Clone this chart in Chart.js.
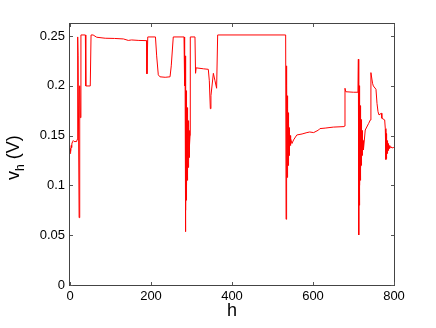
<!DOCTYPE html>
<html>
<head>
<meta charset="utf-8">
<script src="https://cdn.jsdelivr.net/npm/chart.js@4/dist/chart.umd.min.js"></script>
<style>
  body { margin: 0; background: #fff; }
  #wrap { width: 436px; height: 328px; }
</style>
</head>
<body>
<div id="wrap"><canvas id="chart-vh" width="436" height="328"></canvas></div>
<script>
// h values (x axis)
const hVals = [
  0, 1, 2, 3, 4, 5, 6.5, 8, 10, 16.5, 17.5, 19, 20, 22.5, 23.5, 24.5, 25.5, 27, 38, 39, 50, 52,
  57, 66, 87, 110, 132, 144, 152, 170, 189, 190, 192, 211, 214, 218, 222, 235, 247, 250, 255,
  281.5, 283, 284, 284.6, 285, 285.3, 285.6, 285.9, 286.2, 286.5, 286.8, 287.1, 287.4, 287.7, 288,
  288.3, 288.6, 288.9, 289.2, 289.5, 289.8, 290.1, 290.4, 290.7, 291, 291.3, 291.6, 291.9, 292.2,
  292.5, 292.8, 293.1, 293.4, 293.7, 294, 294.3, 294.6, 294.9, 295.2, 295.5, 295.8, 296.4, 297,
  308.6, 310, 311.5, 330, 341.5, 344, 346.5, 348, 354, 358, 362, 364.6, 532.5,
  533.5, 533.9, 534.2, 534.5, 534.8, 535.1, 535.4, 535.7, 536, 536.3, 536.6, 536.9, 537.2, 537.5,
  537.8, 538.1, 538.4, 538.7, 539, 539.3, 539.6, 539.9, 540.2, 540.5, 540.8, 541.1, 541.4, 541.7,
  542, 542.5, 543, 543.5, 544, 545.5, 548, 552, 560, 573, 585, 592,
  601.6, 614, 617, 630, 650, 676.5, 678.5, 679, 681, 700, 711,
  712, 712.3, 712.6, 712.9, 713.2, 713.5, 713.8, 714.1, 714.4, 714.7, 715, 715.3, 715.6, 715.9,
  716.2, 716.5, 716.8, 717.1, 717.4, 717.7, 718, 718.3, 718.6, 718.9, 719.2, 719.5, 719.8, 720.1,
  720.4, 720.7, 721, 721.3, 721.6, 721.9, 722.2, 722.6, 723, 723.5, 724,
  725, 729, 737.5, 741.6, 743, 747, 749, 755.5, 758, 760.5, 763, 768.7, 770, 777, 778.5,
  780, 780.3, 780.6, 780.9, 781.2, 781.5, 781.8, 782.1, 782.4, 782.7, 783, 783.3, 783.6, 784,
  784.5, 785, 785.5, 786, 786.5, 787, 788, 789, 790, 792, 795, 798, 800
];
// v_h values in volts
const vVals = [
  0.132, 0.137, 0.134, 0.14, 0.138, 0.143, 0.144, 0.145, 0.144, 0.144, 0.146, 0.249, 0.23, 0.0676, 0.164, 0.2, 0.168, 0.251, 0.251, 0.1998, 0.1998, 0.251,
  0.251, 0.2487, 0.2477, 0.2475, 0.247, 0.2455, 0.246, 0.2455, 0.2453, 0.212, 0.249, 0.249, 0.23, 0.211, 0.209, 0.2085, 0.209, 0.22, 0.249,
  0.249, 0.2, 0.23, 0.12, 0.0535, 0.2075, 0.08, 0.2, 0.075, 0.195, 0.085, 0.19, 0.09, 0.185, 0.095,
  0.18, 0.1, 0.178, 0.105, 0.175, 0.11, 0.172, 0.112, 0.17, 0.115, 0.168, 0.118, 0.165, 0.12,
  0.163, 0.122, 0.16, 0.125, 0.158, 0.128, 0.155, 0.13, 0.153, 0.135, 0.15, 0.14, 0.15, 0.249,
  0.249, 0.2125, 0.218, 0.217, 0.2165, 0.205, 0.177, 0.19, 0.2125, 0.205, 0.1975, 0.251, 0.251,
  0.066, 0.22, 0.1, 0.215, 0.102, 0.21, 0.105, 0.2, 0.108, 0.19, 0.112, 0.185, 0.115, 0.18,
  0.118, 0.177, 0.12, 0.173, 0.122, 0.17, 0.125, 0.165, 0.128, 0.162, 0.13, 0.158, 0.133, 0.155,
  0.135, 0.152, 0.138, 0.15, 0.14, 0.147, 0.142, 0.1456, 0.1506, 0.1516, 0.153, 0.1536,
  0.153, 0.1556, 0.157, 0.1575, 0.1585, 0.159, 0.1595, 0.1975, 0.194, 0.1935, 0.1935,
  0.2266, 0.11, 0.215, 0.07, 0.21, 0.0502, 0.2, 0.08, 0.195, 0.09, 0.19, 0.095, 0.185, 0.1,
  0.18, 0.105, 0.177, 0.11, 0.172, 0.115, 0.17, 0.118, 0.166, 0.12, 0.163, 0.123, 0.16, 0.126,
  0.158, 0.128, 0.155, 0.13, 0.153, 0.133, 0.15, 0.136, 0.148, 0.14, 0.145,
  0.1355, 0.1556, 0.1623, 0.1657, 0.2132, 0.2025, 0.1998, 0.1965, 0.1824, 0.174, 0.1707, 0.1724, 0.1674, 0.1657, 0.157,
  0.126, 0.152, 0.127, 0.15, 0.128, 0.148, 0.13, 0.147, 0.131, 0.146, 0.132, 0.145, 0.133, 0.144,
  0.134, 0.143, 0.135, 0.142, 0.136, 0.141, 0.137, 0.14, 0.1375, 0.139, 0.1375, 0.138, 0.138
];
const xTicks = [0, 200, 400, 600, 800];
const yTicks = [0, 0.05, 0.1, 0.15, 0.2, 0.25];

const FONT = '"Liberation Sans", Arial, sans-serif';

// box around plot area + inward ticks on all four sides, and the axis titles
const framePlugin = {
  id: 'frame',
  afterDatasetsDraw(chart) {
    const { ctx, chartArea: a, scales } = chart;
    ctx.save();
    ctx.strokeStyle = '#444';
    ctx.lineWidth = 1;
    ctx.strokeRect(a.left - 0.5, a.top - 0.5, a.right - a.left + 1, a.bottom - a.top + 1);
    ctx.strokeStyle = '#555';
    ctx.beginPath();
    xTicks.forEach(v => {
      const px = Math.round(scales.x.getPixelForValue(v)) + 0.5;
      ctx.moveTo(px, a.bottom); ctx.lineTo(px, a.bottom - 3);
      ctx.moveTo(px, a.top); ctx.lineTo(px, a.top + 3);
    });
    yTicks.forEach(v => {
      const py = Math.round(scales.y.getPixelForValue(v)) + 0.5;
      ctx.moveTo(a.left, py); ctx.lineTo(a.left + 3, py);
      ctx.moveTo(a.right, py); ctx.lineTo(a.right - 3, py);
    });
    ctx.stroke();

    // x title
    ctx.fillStyle = '#000';
    ctx.font = '18px ' + FONT;
    ctx.textAlign = 'center';
    ctx.textBaseline = 'alphabetic';
    ctx.fillText('h', (a.left + a.right) / 2, 316);

    // y title: v with subscript h, then (V)
    ctx.translate(19, 180);
    ctx.rotate(-Math.PI / 2);
    ctx.textAlign = 'left';
    ctx.font = '18px ' + FONT;
    ctx.fillText('v', 0, 0);
    let w = ctx.measureText('v').width;
    ctx.font = '12px ' + FONT;
    ctx.fillText('h', w, 5);
    w += ctx.measureText('h').width;
    ctx.font = '18px ' + FONT;
    ctx.fillText(' (V)', w, 0);
    ctx.restore();
  }
};

const ctx = document.getElementById('chart-vh');
new Chart(ctx, {
  type: 'line',
  data: {
    datasets: [{
      data: hVals.map((h, i) => ({ x: h, y: vVals[i] })),
      borderColor: '#ff0000',
      borderWidth: 1,
      pointRadius: 0,
      tension: 0,
      fill: false
    }]
  },
  options: {
    responsive: false,
    animation: false,
    devicePixelRatio: 1,
    layout: { padding: { left: 0, right: 42, top: 24, bottom: 0 } },
    plugins: { legend: { display: false }, tooltip: { enabled: false } },
    scales: {
      x: {
        type: 'linear',
        min: 0, max: 800,
        afterBuildTicks: s => { s.ticks = xTicks.map(v => ({ value: v })); },
        afterFit: s => { s.height = 43; },
        grid: { display: false, drawTicks: false },
        border: { display: false },
        ticks: { color: '#000', padding: 4, font: { family: FONT, size: 13 }, maxRotation: 0 }
      },
      y: {
        type: 'linear',
        min: 0, max: 0.262,
        afterBuildTicks: s => { s.ticks = yTicks.map(v => ({ value: v })); },
        afterFit: s => { s.width = 70; },
        grid: { display: false, drawTicks: false },
        border: { display: false },
        ticks: { color: '#000', padding: 5, font: { family: FONT, size: 13 }, callback: v => String(v) }
      }
    }
  },
  plugins: [framePlugin]
});
</script>
</body>
</html>
